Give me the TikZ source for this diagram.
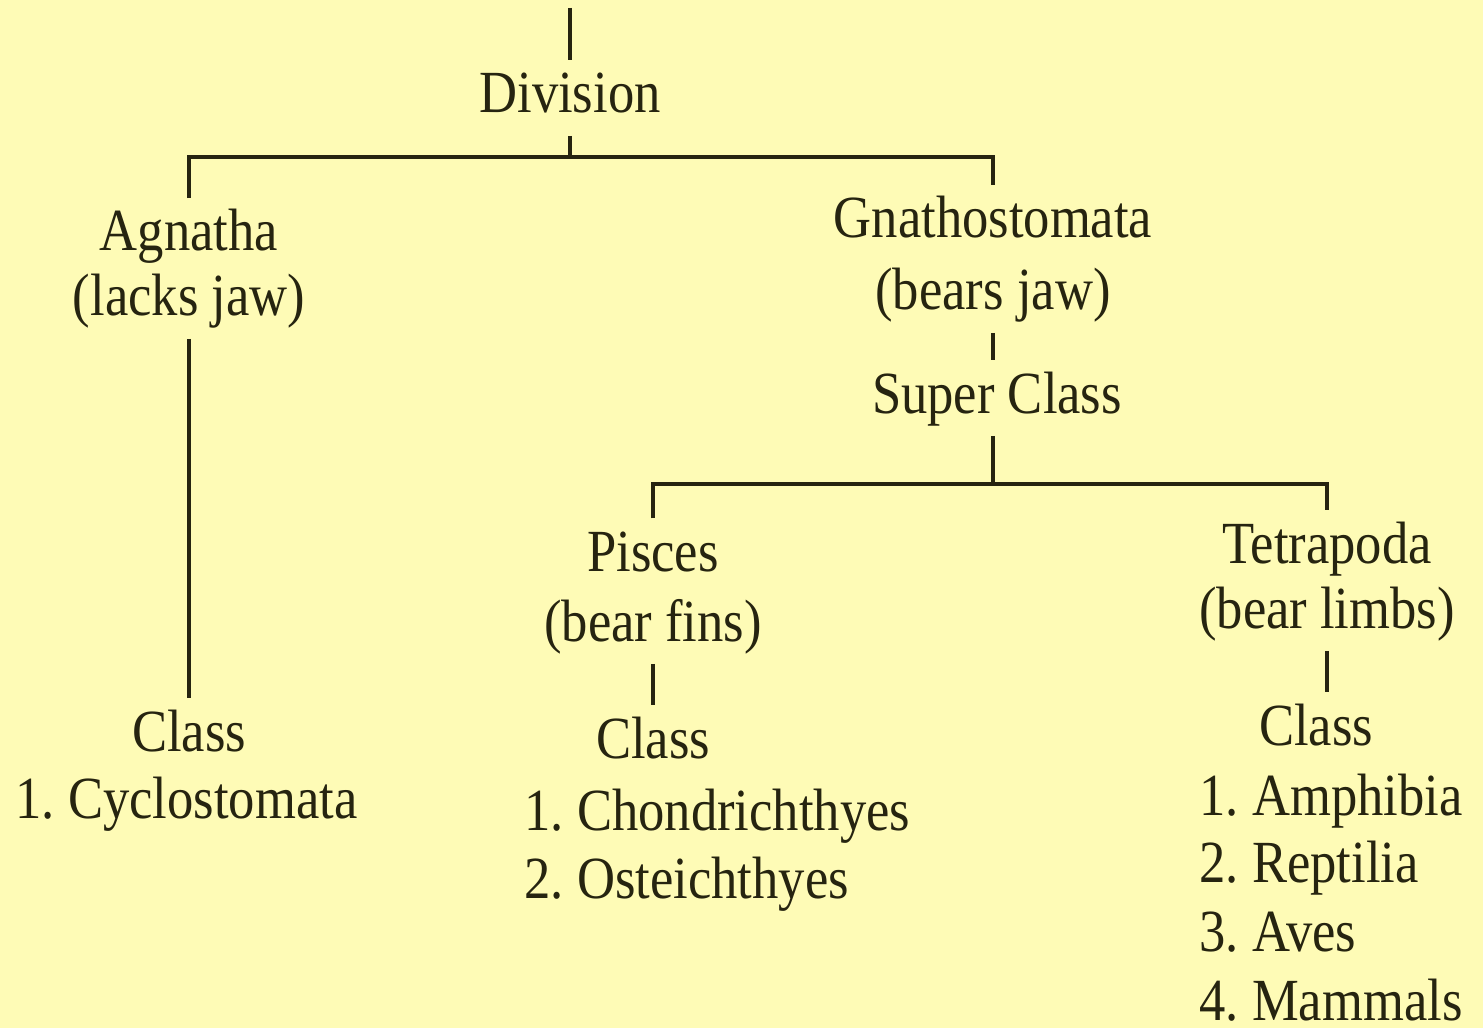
\documentclass[tikz,border=0pt]{standalone}
\usepackage{fontspec}
\setmainfont{Liberation Serif}[FakeStretch=0.88]
\definecolor{bg}{RGB}{254,251,182}
\definecolor{ink}{RGB}{38,36,16}
\frenchspacing
\begin{document}
\begin{tikzpicture}[x=0.01cm,y=-0.01cm,
  lbl/.style={inner sep=0pt, outer sep=3pt, text height=12pt, text depth=3.5pt,
    font=\fontsize{17pt}{20pt}\selectfont\frenchspacing, text=ink, anchor=base},
  lblw/.style={lbl, anchor=base west},
  conn/.style={draw=ink, line width=1.2pt}]
\fill[bg] (0,0) rectangle (1483,1028);
\useasboundingbox (0,0) rectangle (1483,1028);

% nodes
\node[lbl] (div) at (570,113) {Division};
\node[lbl] (agn1) at (189,251) {Agnatha};
\node[lbl] (agn2) at (189,316) {(lacks jaw)};
\node[lbl] (clsA) at (189,751) {Class};
\node[lblw] (cyc) at (5,818) {1. Cyclostomata};

\node[lbl] (gna1) at (993,238) {Gnathostomata};
\node[lbl] (gna2) at (993,310) {(bears jaw)};
\node[lbl] (sup) at (997,413) {Super Class};

\node[lbl] (pis1) at (653,571) {Pisces};
\node[lbl] (pis2) at (653,641) {(bear fins)};
\node[lbl] (clsP) at (653,758) {Class};
\node[lblw] (cho) at (514,830) {1. Chondrichthyes};
\node[lblw] (ost) at (514,898) {2. Osteichthyes};

\node[lbl] (tet1) at (1327,563) {Tetrapoda};
\node[lbl] (tet2) at (1327,628) {(bear limbs)};
\node[lbl] (clsT) at (1316,745) {Class};
\node[lblw] (amp) at (1189,815) {1. Amphibia};
\node[lblw] (rep) at (1189,882) {2. Reptilia};
\node[lblw] (ave) at (1189,951) {3. Aves};
\node[lblw] (mam) at (1189,1020) {4. Mammals};

% junctions
\coordinate (top) at (570,8);
\coordinate (bar1) at (570,157);
\coordinate (bar2) at (993,484);

% connectors
\draw[conn] (top) -- (div.north);
\draw[conn] (div.south) -- (bar1);
\draw[conn] (agn1.north) |- (bar1) -| (gna1.north);
\draw[conn] (agn2.south) -- (agn2.south |- clsA.north);
\draw[conn] (gna2.south) -- (gna2.south |- sup.north);
\draw[conn] (sup.south -| bar2) -- (bar2);
\draw[conn] (pis1.north) |- (bar2) -| (tet1.north);
\draw[conn] (pis2.south) -- (clsP.north);
\draw[conn] (tet2.south) -- (tet2.south |- clsT.north);
\end{tikzpicture}
\end{document}
